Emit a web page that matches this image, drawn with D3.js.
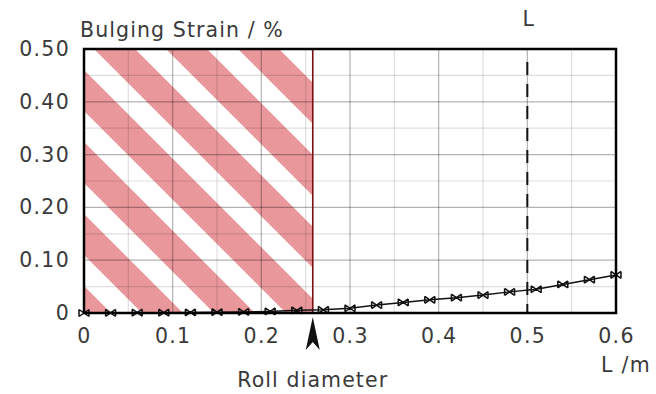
<!DOCTYPE html>
<html>
<head>
<meta charset="utf-8">
<script src="https://cdn.jsdelivr.net/npm/d3@7"></script>
<style>
  html, body { margin: 0; padding: 0; background: #fff; }
  svg text { font-family: "DejaVu Sans", Verdana, sans-serif; fill: #3a3a3a; }
</style>
</head>
<body>
<svg id="chart" width="656" height="394"></svg>
<script>
// ---- data ----
const lengths = [0, 0.03, 0.06, 0.09, 0.12, 0.15, 0.18, 0.21, 0.24, 0.27, 0.30,
                 0.33, 0.36, 0.39, 0.42, 0.45, 0.48, 0.51, 0.54, 0.57, 0.60];
const strains = [0, 0.0003, 0.0005, 0.0007, 0.001, 0.0015, 0.002, 0.003, 0.005, 0.006, 0.009,
                 0.015, 0.020, 0.025, 0.029, 0.034, 0.040, 0.045, 0.054, 0.063, 0.072];
const xTicks = [0, 0.1, 0.2, 0.3, 0.4, 0.5, 0.6];
const xTickLabels = ["0", "0.1", "0.2", "0.3", "0.4", "0.5", "0.6"];
const yTicks = [0, 0.1, 0.2, 0.3, 0.4, 0.5];
const yTickLabels = ["0", "0.10", "0.20", "0.30", "0.40", "0.50"];
const xMinor = [0.05, 0.15, 0.25, 0.35, 0.45, 0.55];
const yMinor = [0.05, 0.15, 0.25, 0.35, 0.45];
const rollDiameter = 0.258;
const markerL = 0.5;

// ---- layout ----
const W = 656, H = 394;
const margin = {left: 84, right: 40, top: 49, bottom: 81};
const svg = d3.select("#chart");
const x = d3.scaleLinear().domain([0, 0.6]).range([margin.left, W - margin.right]);
const y = d3.scaleLinear().domain([0, 0.5]).range([H - margin.bottom, margin.top]);
const FS = 20.5;

// hatch pattern
const defs = svg.append("defs");
const period = 72 / Math.SQRT2, band = 41 / Math.SQRT2;
const pat = defs.append("pattern")
  .attr("id", "hatch")
  .attr("patternUnits", "userSpaceOnUse")
  .attr("width", period).attr("height", period)
  .attr("patternTransform", "translate(45,0) rotate(-45)");
pat.append("rect").attr("x", 0).attr("y", 0).attr("width", band).attr("height", period)
  .attr("fill", "#e9979b");

// hatched region
svg.append("rect")
  .attr("x", x(0)).attr("y", y(0.5))
  .attr("width", x(rollDiameter) - x(0)).attr("height", y(0) - y(0.5))
  .attr("fill", "url(#hatch)");

// grid
const grid = svg.append("g");
grid.selectAll(".vmin").data(xMinor).join("line")
  .attr("x1", d => x(d)).attr("x2", d => x(d)).attr("y1", y(0)).attr("y2", y(0.5))
  .attr("stroke", "#000").attr("stroke-opacity", 0.13).attr("stroke-width", 1.2);
grid.selectAll(".hmin").data(yMinor).join("line")
  .attr("y1", d => y(d)).attr("y2", d => y(d)).attr("x1", x(0)).attr("x2", x(0.6))
  .attr("stroke", "#000").attr("stroke-opacity", 0.13).attr("stroke-width", 1.2);
grid.selectAll(".vmaj").data(xTicks).join("line")
  .attr("x1", d => x(d)).attr("x2", d => x(d)).attr("y1", y(0)).attr("y2", y(0.5))
  .attr("stroke", "#000").attr("stroke-opacity", 0.3).attr("stroke-width", 1.2);
grid.selectAll(".hmaj").data(yTicks).join("line")
  .attr("y1", d => y(d)).attr("y2", d => y(d)).attr("x1", x(0)).attr("x2", x(0.6))
  .attr("stroke", "#000").attr("stroke-opacity", 0.3).attr("stroke-width", 1.2);

// roll diameter line
svg.append("line")
  .attr("x1", x(rollDiameter)).attr("x2", x(rollDiameter))
  .attr("y1", y(0.5)).attr("y2", y(0))
  .attr("stroke", "#7a1010").attr("stroke-width", 1.6);

// dashed L line
svg.append("line")
  .attr("x1", x(markerL)).attr("x2", x(markerL))
  .attr("y1", y(0.5) + 13).attr("y2", y(0))
  .attr("stroke", "#111").attr("stroke-width", 2)
  .attr("stroke-dasharray", "13,9");

// curve
const pts = lengths.map((d, i) => [d, strains[i]]);
svg.append("path")
  .datum(pts)
  .attr("fill", "none").attr("stroke", "#111").attr("stroke-width", 1.5)
  .attr("d", d3.line().x(d => x(d[0])).y(d => y(d[1])));
svg.selectAll(".mk").data(pts).join("path")
  .attr("transform", d => `translate(${x(d[0])},${y(d[1])})`)
  .attr("d", "M-5,-3.5L5,3.5M-5,3.5L5,-3.5M-5,-3.5V3.5M5,-3.5V3.5")
  .attr("fill", "none").attr("stroke", "#111").attr("stroke-width", 1.5);

// frame
svg.append("rect")
  .attr("x", x(0)).attr("y", y(0.5))
  .attr("width", x(0.6) - x(0)).attr("height", y(0) - y(0.5))
  .attr("fill", "none").attr("stroke", "#000").attr("stroke-width", 2.5);

// axes
const xAxis = d3.axisBottom(x).tickValues(xTicks)
  .tickFormat((d, i) => xTickLabels[i]).tickSize(0).tickPadding(15);
const gx = svg.append("g").attr("transform", `translate(0,${y(0)})`).call(xAxis);
gx.select(".domain").remove();
gx.selectAll("text").attr("font-size", FS).attr("letter-spacing", 1.3)
  .style("font-family", '"DejaVu Sans", sans-serif').attr("fill", "#3a3a3a");

const yAxis = d3.axisLeft(y).tickValues(yTicks)
  .tickFormat((d, i) => yTickLabels[i]).tickSize(0).tickPadding(14);
const gy = svg.append("g").attr("transform", `translate(${x(0)},0)`).call(yAxis);
gy.select(".domain").remove();
gy.selectAll("text").attr("font-size", FS).attr("letter-spacing", 1.3)
  .style("font-family", '"DejaVu Sans", sans-serif').attr("fill", "#3a3a3a");

// labels
svg.append("text").attr("x", 80).attr("y", 37)
  .attr("font-size", FS).attr("letter-spacing", 1.1).text("Bulging Strain / %");
svg.append("text").attr("x", 651).attr("y", 372).attr("text-anchor", "end")
  .attr("font-size", FS).attr("letter-spacing", 1.3).text("L /m");
svg.append("text").attr("x", x(markerL) + 1).attr("y", 26).attr("text-anchor", "middle")
  .attr("font-size", FS).text("L");
svg.append("text").attr("x", x(rollDiameter)).attr("y", 387).attr("text-anchor", "middle")
  .attr("font-size", FS).attr("letter-spacing", 1.1).text("Roll diameter");

// arrow
svg.append("path")
  .attr("transform", `translate(${x(rollDiameter)},${y(0) + 4})`)
  .attr("d", "M0,0L7,33L0,25L-7,33Z")
  .attr("fill", "#111");
</script>
</body>
</html>
